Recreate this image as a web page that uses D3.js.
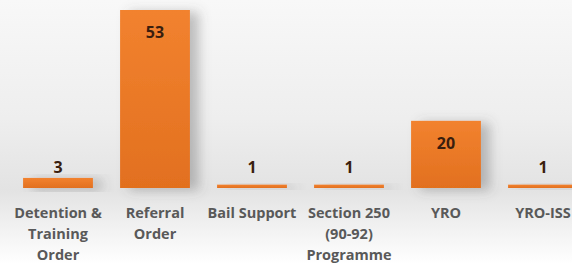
<!DOCTYPE html>
<html>
<head>
<meta charset="utf-8">
<script src="https://cdn.jsdelivr.net/npm/d3@7"></script>
<style>
  html, body { margin: 0; padding: 0; background: #fff; overflow: hidden; }
  svg { display: block; }
</style>
</head>
<body>
<svg id="chart" width="572" height="264"></svg>
<script>
const categories = ["Detention & Training Order", "Referral Order", "Bail Support", "Section 250 (90-92) Programme", "YRO", "YRO-ISS"];
const tickLabels = [["Detention &", "Training", "Order"], ["Referral", "Order"], ["Bail Support"], ["Section 250", "(90-92)", "Programme"], ["YRO"], ["YRO-ISS"]];
const values = [3, 53, 1, 1, 20, 1];

const W = 572, H = 264;
const svg = d3.select("#chart");
const defs = svg.append("defs");

const bg = defs.append("linearGradient").attr("id", "bg").attr("x1", 0).attr("y1", 0).attr("x2", 0).attr("y2", 1);
[[0, "#f8f8f8"], [0.45, "#eeeeee"], [0.72, "#e3e3e3"], [0.8, "#ebebeb"], [1, "#ffffff"]]
  .forEach(([o, c]) => bg.append("stop").attr("offset", o).attr("stop-color", c));

const barGrad = defs.append("linearGradient").attr("id", "barg").attr("x1", 0).attr("y1", 0).attr("x2", 0).attr("y2", 1);
[[0, "#f2822f"], [1, "#e2701f"]].forEach(([o, c]) => barGrad.append("stop").attr("offset", o).attr("stop-color", c));

const shadow = defs.append("filter").attr("id", "shadow").attr("x", "-30%").attr("y", "-30%").attr("width", "180%").attr("height", "160%");
shadow.append("feDropShadow").attr("dx", 9).attr("dy", 2).attr("stdDeviation", 6)
  .attr("flood-color", "#555").attr("flood-opacity", 0.35);

svg.append("rect").attr("width", W).attr("height", H).attr("fill", "url(#bg)");

const x = d3.scaleBand().domain(categories).range([9.5, 591.5]).paddingInner(0.28).paddingOuter(0.14);
const y = d3.scaleLinear().domain([0, 53]).range([188, 10]);

svg.append("g").selectAll("rect").data(categories).join("rect")
  .attr("x", d => x(d))
  .attr("width", x.bandwidth())
  .attr("y", (d, i) => y(values[i]))
  .attr("height", (d, i) => y(0) - y(values[i]))
  .attr("fill", "url(#barg)")
  .attr("filter", "url(#shadow)");

svg.append("g").selectAll("text").data(categories).join("text")
  .attr("x", d => x(d) + x.bandwidth() / 2)
  .attr("y", (d, i) => values[i] >= 10 ? y(values[i]) + 28 : y(0) - 15)
  .attr("text-anchor", "middle")
  .attr("font-family", "'Open Sans', sans-serif")
  .attr("font-weight", "bold")
  .attr("font-size", 16)
  .attr("fill", "#3a1e0e")
  .text((d, i) => values[i]);

const axis = d3.axisBottom(x).tickSize(0).tickPadding(0).tickFormat(() => "");
const gAxis = svg.append("g").attr("transform", "translate(0,188)").call(axis);
gAxis.select(".domain").remove();
gAxis.selectAll(".tick text").each(function(d, i) {
  const t = d3.select(this)
    .attr("y", 0)
    .attr("dy", null)
    .attr("font-family", "'Open Sans', sans-serif")
    .attr("font-weight", "bold")
    .attr("font-size", 14.5)
    .attr("fill", "#595959");
  tickLabels[i].forEach((line, k) => {
    t.append("tspan").attr("x", 0).attr("y", 30 + k * 21).text(line);
  });
});
</script>
</body>
</html>
